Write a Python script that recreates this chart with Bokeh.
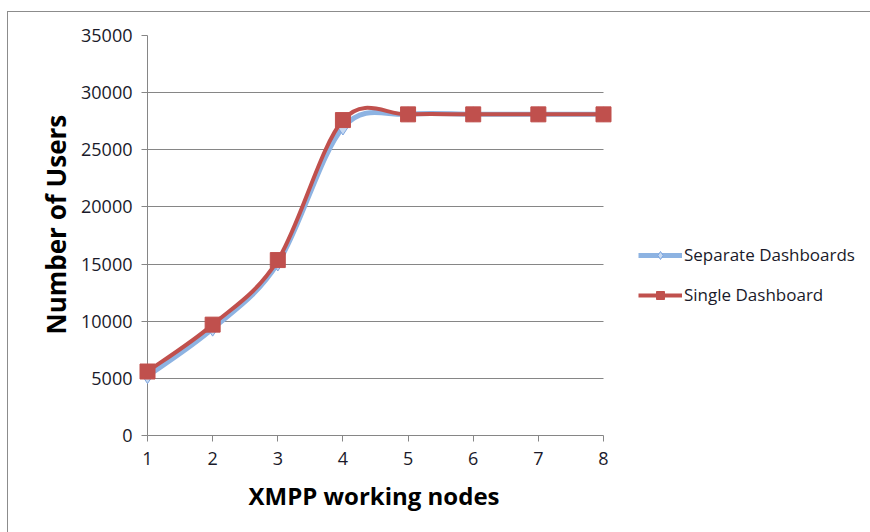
from bokeh.plotting import figure
from bokeh.models import (Range1d, FixedTicker, Legend, LegendItem, ColumnDataSource,
                          Title, Grid)
from bokeh.embed import file_html
from bokeh.resources import INLINE

# ---- data ----
nodes = [1, 2, 3, 4, 5, 6, 7, 8]
separate = [5200, 9350, 15050, 26950, 28100, 28100, 28100, 28100]
single = [5600, 9700, 15350, 27600, 28100, 28100, 28100, 28100]
y_ticks = [0, 5000, 10000, 15000, 20000, 25000, 30000, 35000]
x_label = "XMPP working nodes"
y_label = "Number of Users"
names = ["Separate Dashboards", "Single Dashboard"]

SEP_COLOR = "#8db3e2"
SEP_EDGE = "#7ea6e0"
SIN_COLOR = "#c0504d"
GRID = "#868686"
FONT = "Open Sans"


def smooth_segments(xs, ys):
    """Bezier segments (Excel-like smoothing) built from the data points."""
    n = len(xs)
    seg = dict(x0=[], y0=[], x1=[], y1=[], cx0=[], cy0=[], cx1=[], cy1=[])
    for i in range(n - 1):
        xp, yp = (xs[i - 1], ys[i - 1]) if i > 0 else (xs[i], ys[i])
        xn, yn = (xs[i + 2], ys[i + 2]) if i + 2 < n else (xs[i + 1], ys[i + 1])
        seg["x0"].append(xs[i]); seg["y0"].append(ys[i])
        seg["x1"].append(xs[i + 1]); seg["y1"].append(ys[i + 1])
        seg["cx0"].append(xs[i] + (xs[i + 1] - xp) / 6.0)
        seg["cy0"].append(ys[i] + (ys[i + 1] - yp) / 6.0)
        seg["cx1"].append(xs[i + 1] - (xn - xs[i]) / 6.0)
        seg["cy1"].append(ys[i + 1] - (yn - ys[i]) / 6.0)
    return ColumnDataSource(seg)


# layout: the plotted part is 456 px wide; the frame continues to the right
# edge so that the legend (drawn inside the frame) is not clipped.
W, H = 863, 521
LEFT = 139
PLOT_PX = 456
x_lo, x_hi = nodes[0], nodes[-1]
x_end = x_lo + (W - LEFT) * (x_hi - x_lo) / PLOT_PX

p = figure(width=W, height=H, output_backend="svg", toolbar_location=None,
           x_range=Range1d(x_lo, x_end), y_range=Range1d(0, y_ticks[-1]),
           min_border_left=LEFT, min_border_right=0,
           min_border_top=23, min_border_bottom=98)
p.margin = (11, 0, 0, 7)
p.styles = {"border-top": "1px solid #8c8c8c", "border-left": "1px solid #8c8c8c"}
p.outline_line_color = None
p.background_fill_color = "white"
p.border_fill_color = "white"

# grid (horizontal only, limited to the data's x extent)
p.xgrid.grid_line_color = None
if "cross_bounds" in Grid.properties():
    p.ygrid.cross_bounds = (x_lo, x_hi)
    p.ygrid.grid_line_color = GRID
else:
    p.ygrid.grid_line_color = None
    p.segment(x0=[x_lo] * len(y_ticks), x1=[x_hi] * len(y_ticks),
              y0=y_ticks, y1=y_ticks, line_color=GRID, line_width=1,
              level="underlay")

# axes
p.xaxis.ticker = FixedTicker(ticks=nodes)
p.yaxis.ticker = FixedTicker(ticks=y_ticks)
p.xaxis.bounds = (x_lo, x_hi)
for ax in (p.xaxis[0], p.yaxis[0]):
    ax.axis_line_color = GRID
    ax.major_tick_line_color = GRID
    ax.minor_tick_line_color = None
    ax.major_tick_in = 0
    ax.major_tick_out = 6
    ax.major_label_text_font = FONT
    ax.major_label_text_font_size = "18px"
    ax.major_label_text_color = "#1a1a2a"
p.xaxis.major_label_standoff = 10
p.yaxis.major_label_standoff = 9

xt = Title(text=x_label, align="left", offset=101, text_font=FONT,
           text_font_style="bold", text_font_size="24px", text_color="black",
           standoff=18)
p.add_layout(xt, "below")

yt = Title(text=y_label, align="left", offset=101, text_font=FONT,
           text_font_style="bold", text_font_size="26px", text_color="black",
           standoff=10)
p.add_layout(yt, "left")

# series
src_sep = smooth_segments(nodes, separate)
src_sin = smooth_segments(nodes, single)

r1 = p.bezier(x0="x0", y0="y0", x1="x1", y1="y1", cx0="cx0", cy0="cy0",
              cx1="cx1", cy1="cy1", source=src_sep, line_color=SEP_COLOR,
              line_width=5)
m1 = p.scatter(nodes, separate, marker="diamond", size=15,
               fill_color="#c6d9f1", line_color=SEP_EDGE, line_width=1)
r2 = p.bezier(x0="x0", y0="y0", x1="x1", y1="y1", cx0="cx0", cy0="cy0",
              cx1="cx1", cy1="cy1", source=src_sin, line_color=SIN_COLOR,
              line_width=4)
m2 = p.scatter(nodes, single, marker="square", size=15,
               fill_color=SIN_COLOR, line_color=SIN_COLOR, line_width=1)
for r in (r1, m1, r2, m2):
    r.level = "overlay"

# legend glyphs (line + marker)
l1 = p.line([1, 2], [0, 0], line_color=SEP_COLOR, line_width=5, visible=False)
l2 = p.line([1, 2], [0, 0], line_color=SIN_COLOR, line_width=4, visible=False)

legend = Legend(items=[LegendItem(label=names[0], renderers=[l1, m1]),
                       LegendItem(label=names[1], renderers=[l2, m2])],
                location=(491, 129), orientation="vertical")
legend.border_line_color = None
legend.background_fill_alpha = 0
legend.padding = 0
legend.margin = 0
legend.spacing = 17
legend.glyph_width = 44
legend.glyph_height = 20
legend.label_height = 20
legend.label_standoff = 2
legend.label_text_font = FONT
legend.label_text_font_size = "17px"
legend.label_text_color = "#1a1a2a"
p.add_layout(legend, "center")

open("out.html", "w").write(file_html(p, INLINE))
